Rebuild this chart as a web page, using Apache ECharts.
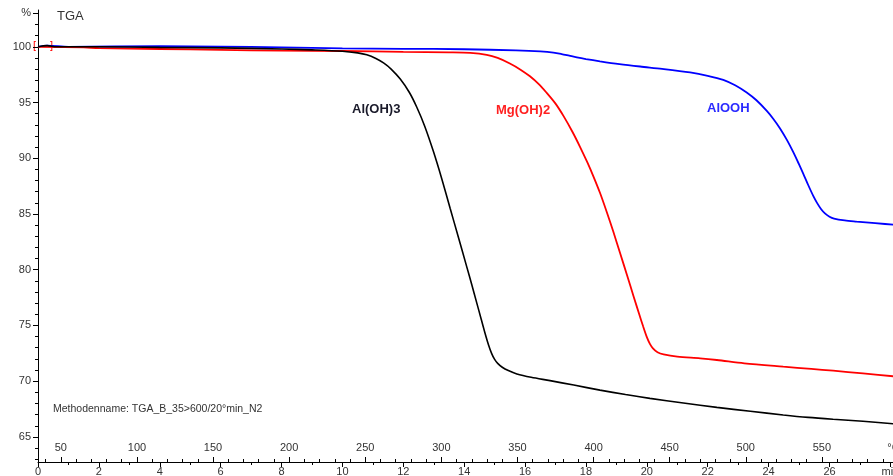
<!DOCTYPE html>
<html>
<head>
<meta charset="utf-8">
<script src="https://cdn.jsdelivr.net/npm/echarts@6/dist/echarts.min.js"></script>
<style>html,body{margin:0;padding:0;background:#fff;}#c{width:893px;height:476px;}</style>
</head>
<body>
<div id="c"></div>
<script>
// ---- data (time in min, mass in %) ----
const timeAlOH3 = [0,0.3,0.6,2,4,6,8,9,10,10.5,10.8,11.1,11.35,11.6,11.9,12.2,12.44,12.7,12.99,13.27,13.54,13.8,14.08,14.25,14.41,14.55,14.68,14.8,14.9,15.0,15.1,15.25,15.45,15.73,16.2,16.82,17.6,18.46,19.3,20.1,21.2,22.3,23.4,24.48,25.3,26.12,27.1,28.25];
const massAlOH3 = [100,100.1,100,100,99.95,99.9,99.8,99.72,99.6,99.45,99.28,98.95,98.55,98.0,97.1,95.9,94.6,92.9,90.6,88.1,85.5,83.0,80.3,78.65,77.05,75.65,74.35,73.25,72.5,71.95,71.6,71.25,70.95,70.65,70.35,70.05,69.65,69.2,68.8,68.46,68.05,67.65,67.3,66.97,66.75,66.58,66.4,66.15];

const timeMgOH2 = [0,1.5,2,4,6,8,10,12,13.5,14.2,14.74,15.1,15.5,15.85,16.16,16.45,16.7,17.0,17.26,17.55,17.8,18.05,18.24,18.46,18.68,18.9,19.12,19.35,19.56,19.75,19.88,20.0,20.1,20.2,20.35,20.55,21.0,21.75,22.3,23.2,24.48,25.4,26.12,27.1,28.25];
const massMgOH2 = [100,99.95,99.88,99.8,99.72,99.65,99.62,99.55,99.5,99.45,99.28,99.0,98.5,97.95,97.35,96.65,95.9,94.9,93.8,92.4,91.05,89.6,88.4,86.9,85.2,83.4,81.5,79.5,77.65,76.0,74.9,73.95,73.35,72.95,72.6,72.4,72.2,72.05,71.9,71.6,71.3,71.1,70.94,70.7,70.4];

const timeAlOOH = [0,0.3,1,4,6,8,9,10,12,14,15.7,16.5,16.93,17.2,17.45,17.7,18.0,18.46,19.1,19.78,20.5,21.42,22.0,22.51,22.9,23.28,23.6,23.94,24.15,24.37,24.6,24.81,25.0,25.14,25.3,25.47,25.6,25.72,25.85,26.0,26.15,26.5,26.89,27.5,28.25];
const massAlOOH = [100,100.1,100,100.05,100.02,99.95,99.9,99.85,99.82,99.78,99.67,99.58,99.48,99.35,99.2,99.05,98.9,98.7,98.45,98.23,98.02,97.7,97.4,97.04,96.55,95.9,95.2,94.25,93.55,92.7,91.65,90.55,89.45,88.6,87.6,86.6,85.95,85.45,85.05,84.75,84.58,84.42,84.32,84.18,84.0];

// ---- tick labels ----
const yLabelValues = [65,70,75,80,85,90,95,100,103];
const yMinorTicks = [63,64,65,66,67,68,69,70,71,72,73,74,75,76,77,78,79,80,81,82,83,84,85,86,87,88,89,90,91,92,93,94,95,96,97,98,99,100,101,102,103];
const tempLabelValues = [50,100,150,200,250,300,350,400,450,500,550,597];
const tempMajorTicks = [50,100,150,200,250,300,350,400,450,500,550];
const tempMinorTicks = [40,50,60,70,80,90,100,110,120,130,140,150,160,170,180,190,200,210,220,230,240,250,260,270,280,290,300,310,320,330,340,350,360,370,380,390,400,410,420,430,440,450,460,470,480,490,500,510,520,530,540,550,560,570,580,590];

function pairs(t, m) { return t.map((x, i) => [x, m[i]]); }

const FONT = '"Liberation Sans", Arial, sans-serif';
const chart = echarts.init(document.getElementById('c'), null, {renderer: 'canvas'});

const yMin = 62.75, yMax = 103.3;

chart.setOption({
  animation: false,
  backgroundColor: '#ffffff',
  grid: {left: 38, top: 10, width: 860, height: 452, outerBoundsMode: 'none', containLabel: false},
  xAxis: [
    {
      type: 'value', min: 0, max: 28.25, interval: 2, position: 'bottom',
      axisLine: {onZero: false, lineStyle: {color: '#000', width: 1}},
      axisTick: {show: true, length: 5, lineStyle: {color: '#000'}},
      minorTick: {show: true, splitNumber: 2, length: 3, lineStyle: {color: '#000'}},
      splitLine: {show: false},
      axisLabel: {fontSize: 11, fontFamily: FONT, color: '#333', margin: 4,
        formatter: v => (v === 28 ? 'min' : String(v))}
    },
    {
      type: 'value', min: 35, max: 600, position: 'bottom',
      axisLine: {show: false, onZero: false},
      axisTick: {show: true, inside: true, length: 5, customValues: tempMajorTicks, lineStyle: {color: '#000'}},
      splitLine: {show: false},
      axisLabel: {inside: true, margin: 9, fontSize: 11, fontFamily: FONT, color: '#333',
        customValues: tempLabelValues, formatter: v => (v === 597 ? '°C' : String(v))}
    },
    {
      type: 'value', min: 35, max: 600, position: 'bottom',
      axisLine: {show: false, onZero: false},
      axisTick: {show: true, inside: true, length: 3, customValues: tempMinorTicks, lineStyle: {color: '#000'}},
      splitLine: {show: false},
      axisLabel: {show: false}
    }
  ],
  yAxis: [
    {
      type: 'value', min: yMin, max: yMax, position: 'left',
      axisLine: {show: true, onZero: false, lineStyle: {color: '#000', width: 1}},
      axisTick: {show: true, length: 5, customValues: yLabelValues, lineStyle: {color: '#000'}},
      splitLine: {show: false},
      axisLabel: {margin: 7, fontSize: 11, fontFamily: FONT, color: '#333',
        customValues: yLabelValues, formatter: v => (v === 103 ? '%' : String(v))}
    },
    {
      type: 'value', min: yMin, max: yMax, position: 'left',
      axisLine: {show: false, onZero: false},
      axisTick: {show: true, length: 3, customValues: yMinorTicks, lineStyle: {color: '#000'}},
      splitLine: {show: false},
      axisLabel: {show: false}
    }
  ],
  series: [
    {name: 'AlOOH', type: 'line', xAxisIndex: 0, yAxisIndex: 0, data: pairs(timeAlOOH, massAlOOH),
      showSymbol: false, smooth: 0.3, lineStyle: {color: '#0000ff', width: 1.8}, z: 3},
    {name: 'Mg(OH)2', type: 'line', xAxisIndex: 0, yAxisIndex: 0, data: pairs(timeMgOH2, massMgOH2),
      showSymbol: false, smooth: 0.3, lineStyle: {color: '#ff0000', width: 1.8}, z: 4},
    {name: 'Al(OH)3', type: 'line', xAxisIndex: 0, yAxisIndex: 0, data: pairs(timeAlOH3, massAlOH3),
      showSymbol: false, smooth: 0.3, lineStyle: {color: '#000000', width: 1.6}, z: 5}
  ],
  graphic: [
    {type: 'text', left: 57, top: 10, style: {text: 'TGA', font: '13px ' + FONT, fill: '#333'}},
    {type: 'text', left: 53, top: 404, style: {text: 'Methodenname: TGA_B_35>600/20°min_N2', font: '10.5px ' + FONT, fill: '#333'}},
    {type: 'text', left: 352, top: 103, style: {text: 'Al(OH)3', font: 'bold 13px ' + FONT, fill: '#1a1a2a'}},
    {type: 'text', left: 496, top: 104, style: {text: 'Mg(OH)2', font: 'bold 13px ' + FONT, fill: '#ff2020'}},
    {type: 'text', left: 707, top: 102, style: {text: 'AlOOH', font: 'bold 13px ' + FONT, fill: '#2a2aff'}},
    {type: 'text', left: 33, top: 40, style: {text: '[', font: '11px ' + FONT, fill: '#ff0000'}},
    {type: 'text', left: 50, top: 40, style: {text: ']', font: '11px ' + FONT, fill: '#ff0000'}}
  ]
});
</script>
</body>
</html>
